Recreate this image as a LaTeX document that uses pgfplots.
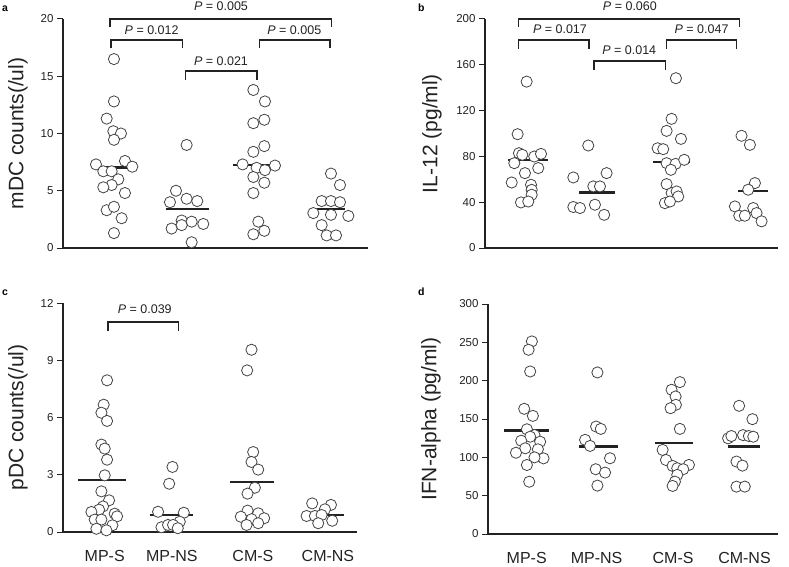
\documentclass[border=0pt]{standalone}
\usepackage{fontspec}
\setmainfont{Liberation Sans}
\usepackage{pgfplots}
\usepackage{pgfplotstable}
\pgfplotsset{compat=1.18}
\definecolor{ink}{HTML}{222222}

% panel a: mDC counts
\pgfplotstableread{
x y
0.957 16.5
0.957 12.8
0.853 11.3
0.948 10.2
1.057 10.0
0.957 9.45
0.700 7.3
1.114 7.6
1.219 7.1
0.805 6.7
0.924 6.7
1.019 6.0
0.924 5.5
0.805 5.3
1.114 4.8
0.853 3.3
0.957 3.6
1.067 2.6
0.957 1.3
1.995 9.0
1.843 5.0
1.757 4.0
1.995 4.3
2.147 4.1
1.924 2.4
2.067 2.3
1.781 1.7
1.924 2.0
2.233 2.1
2.067 0.5
2.948 13.8
3.114 12.8
2.948 10.9
3.105 11.2
3.105 8.9
2.948 8.4
2.795 7.3
2.995 7.0
3.114 6.8
3.257 7.2
2.948 6.2
3.105 5.7
2.948 4.8
3.019 2.3
3.105 1.5
2.948 1.2
4.057 6.5
4.186 5.5
3.924 4.1
4.057 4.1
4.186 4.0
3.805 3.05
4.057 2.9
4.305 2.8
3.924 2.0
3.995 1.1
4.129 1.1
}\dataA

% panel b: IL-12
\pgfplotstableread{
x y
0.982 145.3
0.860 99.4
0.878 82.8
0.923 81.4
1.085 79.9
1.176 82.2
0.815 74.1
1.139 69.8
0.959 65.4
0.780 57.2
1.041 55.2
1.050 50.8
1.050 46.5
0.905 39.8
1.004 40.6
1.613 61.6
1.815 89.5
2.063 65.4
1.883 53.8
1.973 53.8
1.613 35.8
1.703 34.9
1.905 37.8
2.030 29.0
3.000 148.3
2.941 112.8
2.874 102.3
3.068 95.3
2.753 87.1
2.828 86.3
2.874 74.1
2.996 73.5
3.112 77.0
2.932 68.3
2.874 55.8
2.942 48.0
3.009 49.4
2.851 39.2
3.031 45.0
2.919 40.6
3.887 98.0
4.000 90.1
4.068 56.7
3.977 50.9
3.797 36.3
4.045 34.9
4.090 30.5
3.856 28.2
3.932 28.2
4.158 23.3
}\dataB

% panel c: pDC counts
\pgfplotstableread{
x y
1.066 7.95
1.020 6.67
0.989 6.25
1.066 5.82
0.989 4.58
1.034 4.37
1.066 3.79
1.034 2.97
0.989 2.13
1.093 1.66
1.011 1.34
0.957 1.17
0.853 1.05
0.898 0.65
0.989 0.65
1.170 0.96
1.202 0.82
1.138 0.35
0.921 0.17
1.057 0.09
1.955 3.41
1.910 2.53
1.759 1.06
2.109 1.01
2.054 0.54
1.805 0.25
1.895 0.37
1.963 0.37
2.027 0.20
3.029 9.55
2.970 8.47
3.052 4.19
3.029 3.67
3.120 3.27
3.075 2.32
2.975 2.01
2.976 1.12
2.884 0.80
3.120 0.98
3.201 0.72
3.030 0.67
2.962 0.37
3.120 0.46
3.854 1.50
4.109 1.42
4.027 1.19
3.778 0.84
3.891 0.84
3.982 0.89
3.936 0.46
4.126 0.59
}\dataC

% panel d: IFN-alpha
\pgfplotstableread{
x y
1.091 251.2
1.046 240.3
1.068 212.0
0.986 163.3
1.105 154.1
1.023 136.6
1.127 129.1
1.068 126.9
0.945 121.7
1.205 120.4
1.000 111.8
0.873 106.0
1.174 110.5
1.251 98.7
1.127 100.0
1.023 90.0
1.055 68.2
1.991 210.7
1.973 140.2
2.037 137.1
1.822 122.8
1.890 114.9
2.164 98.8
1.968 84.5
2.096 80.1
1.991 63.1
3.123 198.1
3.009 188.1
3.064 179.4
3.068 168.5
2.995 164.1
3.123 137.1
2.886 109.7
2.932 96.6
3.023 88.8
3.247 90.1
3.087 85.8
3.169 84.5
3.087 77.1
3.055 68.3
3.023 62.7
3.936 167.2
4.119 149.8
3.785 124.8
3.830 127.8
3.990 129.0
4.070 127.8
4.130 126.9
3.900 94.5
3.982 89.2
3.900 61.8
4.014 61.8
}\dataD

\pgfplotsset{
 panel/.style={scale only axis, anchor=south west, clip=false,
  axis x line*=bottom, axis y line*=left,
  axis line style={line width=1.4pt, ink, -},
  every tick/.style={line width=1pt, ink},
  major tick length=6pt, tick align=outside,
  /pgf/number format/assume math mode=true,
  yticklabel style={font=\fontsize{11.5}{13}\selectfont, text=ink},
  xticklabel style={font=\fontsize{16}{18}\selectfont, text=ink, yshift=-9pt},
  xtick style={draw=none},
  ylabel style={font=\fontsize{21}{24}\selectfont, text=ink, anchor=center},
 },
 pts/.style={only marks, mark=*, mark size=5.6pt, mark options={fill=white, draw=ink!85, line width=0.8pt}},
 med/.style={no marks, line width=2.1pt, ink},
}
\tikzset{
 br/.style={line width=1.3pt, ink},
 pl/.style={font=\fontsize{12.5}{14}\selectfont, text=ink},
}

\begin{document}
\begin{tikzpicture}
\useasboundingbox (0,0) rectangle (789pt,566pt);

% ---- panel a ----
\begin{axis}[panel, at={(63pt,318pt)}, width=305pt, height=229pt,
  xmin=0.229, xmax=4.586, ymin=0, ymax=20, ytick={0,5,10,15,20}, xtick=\empty,
  ylabel={mDC counts(/ul)}, ylabel style={at={(axis description cs:-0.148,0.5)}}]
\addplot[pts] table {\dataA};
\addplot[med] coordinates {(0.71,7.03) (1.28,7.03)};
\addplot[med] coordinates {(1.695,3.43) (2.319,3.43)};
\addplot[med] coordinates {(2.662,7.27) (3.33,7.27)};
\addplot[med] coordinates {(3.83,3.4) (4.257,3.4)};
\draw[br] (axis cs:0.9,19.27) -- (axis cs:0.9,20) -- (axis cs:4.067,20) -- (axis cs:4.067,19.27);
\node[pl] at (axis cs:2.486,21.08) {\textit{P} = 0.005};
\draw[br] (axis cs:0.914,17.44) -- (axis cs:0.914,18.17) -- (axis cs:1.933,18.17) -- (axis cs:1.933,17.44);
\node[pl] at (axis cs:1.495,19.04) {\textit{P} = 0.012};
\draw[br] (axis cs:3.033,17.44) -- (axis cs:3.033,18.17) -- (axis cs:4.043,18.17) -- (axis cs:4.043,17.44);
\node[pl] at (axis cs:3.533,19.04) {\textit{P} = 0.005};
\draw[br] (axis cs:1.98,14.68) -- (axis cs:1.98,15.47) -- (axis cs:3.0,15.47) -- (axis cs:3.0,14.68);
\node[pl] at (axis cs:2.486,16.34) {\textit{P} = 0.021};
\end{axis}

% ---- panel b ----
\begin{axis}[panel, at={(485pt,318pt)}, width=293pt, height=229pt,
  xmin=0.419, xmax=4.38, ymin=0, ymax=200, ytick={0,40,80,120,160,200}, xtick=\empty,
  ylabel={IL-12 (pg/ml)}, ylabel style={at={(axis description cs:-0.181,0.5)}}]
\addplot[pts] table {\dataB};
\addplot[med] coordinates {(0.734,76.5) (1.275,76.5)};
\addplot[med] coordinates {(1.689,48.5) (2.176,48.5)};
\addplot[med] coordinates {(2.694,75.0) (3.189,75.0)};
\addplot[med] coordinates {(3.842,50.0) (4.248,50.0)};
\draw[br] (axis cs:0.869,192.7) -- (axis cs:0.869,200) -- (axis cs:3.856,200) -- (axis cs:3.856,192.7);
\node[pl] at (axis cs:2.378,210.8) {\textit{P} = 0.060};
\draw[br] (axis cs:0.869,173.8) -- (axis cs:0.869,181.7) -- (axis cs:1.824,181.7) -- (axis cs:1.824,173.8);
\node[pl] at (axis cs:1.432,191) {\textit{P} = 0.017};
\draw[br] (axis cs:2.874,173.8) -- (axis cs:2.874,181.7) -- (axis cs:3.820,181.7) -- (axis cs:3.820,173.8);
\node[pl] at (axis cs:3.347,191) {\textit{P} = 0.047};
\draw[br] (axis cs:1.892,155.5) -- (axis cs:1.892,163.4) -- (axis cs:2.856,163.4) -- (axis cs:2.856,155.5);
\node[pl] at (axis cs:2.369,172.4) {\textit{P} = 0.014};
\end{axis}

% ---- panel c ----
\begin{axis}[panel, at={(63pt,34pt)}, width=294pt, height=229pt,
  xmin=0.467, xmax=4.463, ymin=0, ymax=12, ytick={0,3,6,9,12},
  xtick={1.034,1.946,3.048,4.068}, xticklabels={MP-S,MP-NS,CM-S,CM-NS},
  ylabel={pDC counts(/ul)}, ylabel style={at={(axis description cs:-0.153,0.5)}}]
\addplot[pts] table {\dataC};
\addplot[med] coordinates {(0.671,2.71) (1.329,2.71)};
\addplot[med] coordinates {(1.646,0.91) (2.235,0.91)};
\addplot[med] coordinates {(2.735,2.62) (3.333,2.62)};
\addplot[med] coordinates {(3.71,0.91) (4.29,0.91)};
\draw[br] (axis cs:1.079,10.53) -- (axis cs:1.079,11.0) -- (axis cs:2.041,11.0) -- (axis cs:2.041,10.53);
\node[pl] at (axis cs:1.578,11.65) {\textit{P} = 0.039};
\end{axis}

% ---- panel d ----
\begin{axis}[panel, at={(488pt,32pt)}, width=290pt, height=230pt,
  xmin=0.489, xmax=4.47, ymin=0, ymax=300, ytick={0,50,100,150,200,250,300},
  xtick={1.02,1.98,3.03,4.01}, xticklabels={MP-S,MP-NS,CM-S,CM-NS},
  ylabel={IFN-alpha (pg/ml)}, ylabel style={at={(axis description cs:-0.197,0.5)}}]
\addplot[pts] table {\dataD};
\addplot[med] coordinates {(0.703,135.0) (1.32,135.0)};
\addplot[med] coordinates {(1.744,114.1) (2.269,114.1)};
\addplot[med] coordinates {(2.781,118.4) (3.306,118.4)};
\addplot[med] coordinates {(3.785,114.1) (4.219,114.1)};
\end{axis}

% panel letters
\node[anchor=base west, inner sep=0, font=\bfseries\fontsize{10.5}{12}\selectfont] at (2pt,554pt) {a};
\node[anchor=base west, inner sep=0, font=\bfseries\fontsize{10.5}{12}\selectfont] at (418pt,554pt) {b};
\node[anchor=base west, inner sep=0, font=\bfseries\fontsize{10.5}{12}\selectfont] at (2pt,271pt) {c};
\node[anchor=base west, inner sep=0, font=\bfseries\fontsize{10.5}{12}\selectfont] at (418pt,271pt) {d};
\end{tikzpicture}
\end{document}
